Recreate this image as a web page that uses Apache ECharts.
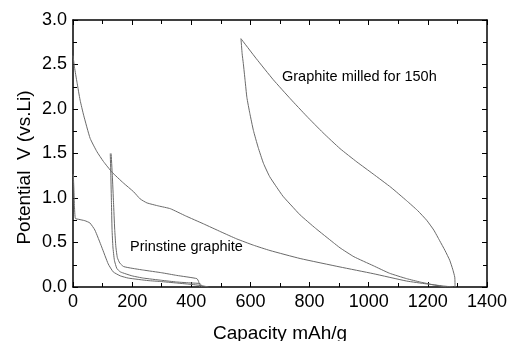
<!DOCTYPE html>
<html>
<head>
<meta charset="utf-8">
<script src="https://cdn.jsdelivr.net/npm/echarts@6/dist/echarts.min.js"></script>
<style>html,body{margin:0;padding:0;background:#fff}#c{width:510px;height:341px}</style>
</head>
<body>
<div id="c"></div>
<script>
// Data
const xTicks = [0, 200, 400, 600, 800, 1000, 1200, 1400];
const yTicks = [0.0, 0.5, 1.0, 1.5, 2.0, 2.5, 3.0];

// Graphite milled for 150h
const milledDis1Cap = [0, 5, 13.5, 24, 36, 58, 81, 103, 132, 170, 205, 227, 250, 290, 329, 380, 441, 500, 554, 610, 666, 768, 903, 1015, 1128, 1195, 1250, 1285];
const milledDis1V   = [2.6, 2.47, 2.30, 2.1, 1.93, 1.67, 1.52, 1.41, 1.29, 1.17, 1.07, 0.99, 0.945, 0.91, 0.88, 0.80, 0.71, 0.62, 0.54, 0.47, 0.41, 0.32, 0.225, 0.15, 0.067, 0.035, 0.012, 0.0];
const milledChgCap = [1292, 1291, 1284, 1274, 1258, 1240, 1220, 1196, 1165, 1128, 1075, 1015, 960, 903, 845, 790, 735, 677, 620, 568];
const milledChgV   = [0.0, 0.11, 0.2, 0.30, 0.41, 0.52, 0.64, 0.75, 0.86, 0.97, 1.12, 1.27, 1.405, 1.555, 1.735, 1.92, 2.115, 2.33, 2.565, 2.79];
const milledDis2Cap = [568, 572, 576, 582, 588, 598, 610, 626, 644, 665, 689, 710, 740, 768, 820, 880, 903, 950, 1015, 1070, 1128, 1175, 1218, 1262];
const milledDis2V   = [2.79, 2.62, 2.51, 2.32, 2.13, 1.95, 1.76, 1.57, 1.39, 1.24, 1.12, 1.02, 0.91, 0.81, 0.66, 0.50, 0.44, 0.34, 0.24, 0.155, 0.094, 0.055, 0.025, 0.0];

// Prinstine graphite
const pristDis1Cap = [1, 3, 5, 8, 20, 40, 57, 74, 97, 119, 136, 160, 187, 254, 295, 350, 407, 440, 458];
const pristDis1V   = [1.27, 1.1, 0.9, 0.77, 0.76, 0.745, 0.72, 0.64, 0.45, 0.26, 0.17, 0.125, 0.10, 0.072, 0.062, 0.045, 0.027, 0.012, 0.0];
const pristChgCap = [428, 427, 425, 419, 351, 300, 238, 200, 171, 158, 150, 145, 141, 137, 133, 129];
const pristChgV   = [0.0, 0.03, 0.06, 0.094, 0.13, 0.16, 0.19, 0.21, 0.23, 0.27, 0.33, 0.45, 0.65, 0.95, 1.25, 1.50];
const pristDis2Cap = [126, 128, 130, 132, 135, 140, 148, 160, 200, 238, 300, 351, 400, 430, 435];
const pristDis2V   = [1.50, 1.25, 0.95, 0.65, 0.45, 0.30, 0.21, 0.17, 0.125, 0.10, 0.075, 0.056, 0.045, 0.038, 0.0];

const zip = (a, b) => a.map((v, i) => [v, b[i]]);
const font = 'Liberation Sans, Arial, sans-serif';
const lineColor = '#6a6a6a';

function mkLine(cap, v) {
  return {
    type: 'line', data: zip(cap, v), showSymbol: false, smooth: 0.15,
    lineStyle: { color: lineColor, width: 1 }, silent: true, animation: false
  };
}

const axisCommon = {
  axisLine: { show: true, onZero: false, lineStyle: { color: '#000', width: 1.5 } },
  axisTick: { show: true, inside: true, length: 5, lineStyle: { color: '#000', width: 1 } },
  minorTick: { show: true, splitNumber: 2, length: 4, lineStyle: { color: '#000', width: 1 } },
  splitLine: { show: false }
};

const chart = echarts.init(document.getElementById('c'), null, { renderer: 'canvas' });
chart.setOption({
  animation: false,
  backgroundColor: '#fff',
  grid: { left: 73, right: 23, top: 20, bottom: 54, containLabel: false, outerBoundsMode: 'none' },
  xAxis: [
    Object.assign({}, axisCommon, {
      type: 'value', min: xTicks[0], max: xTicks[xTicks.length - 1], interval: 200, position: 'bottom',
      name: 'Capacity mAh/g', nameLocation: 'middle', nameGap: 37, nameMoveOverlap: false,
      nameTextStyle: { fontFamily: font, fontSize: 19, color: '#000' },
      axisLabel: { fontFamily: font, fontSize: 18, color: '#000', margin: 6, formatter: v => String(v) }
    }),
    Object.assign({}, axisCommon, {
      type: 'value', min: xTicks[0], max: xTicks[xTicks.length - 1], interval: 200, position: 'top',
      axisLabel: { show: false }
    })
  ],
  yAxis: [
    Object.assign({}, axisCommon, {
      type: 'value', min: yTicks[0], max: yTicks[yTicks.length - 1], interval: 0.5, position: 'left',
      name: 'Potential  V (vs.Li)', nameLocation: 'middle', nameGap: 39, nameRotate: 90, nameMoveOverlap: false,
      nameTextStyle: { fontFamily: font, fontSize: 19, color: '#000', padding: [0, 0, 0, -28] },
      axisLabel: { fontFamily: font, fontSize: 18, color: '#000', margin: 6, formatter: v => v.toFixed(1) }
    }),
    Object.assign({}, axisCommon, {
      type: 'value', min: yTicks[0], max: yTicks[yTicks.length - 1], interval: 0.5, position: 'right',
      axisLabel: { show: false }
    })
  ],
  series: [
    mkLine(milledDis1Cap, milledDis1V),
    mkLine(milledChgCap, milledChgV),
    mkLine(milledDis2Cap, milledDis2V),
    mkLine(pristDis1Cap, pristDis1V),
    mkLine(pristChgCap, pristChgV),
    mkLine(pristDis2Cap, pristDis2V)
  ],
  graphic: [
    { type: 'text', left: 282, top: 69, style: { text: 'Graphite milled for 150h', font: '14.5px ' + font, fill: '#000' } },
    { type: 'text', left: 130, top: 239, style: { text: 'Prinstine graphite', font: '14.5px ' + font, fill: '#000' } }
  ]
});
</script>
</body>
</html>
